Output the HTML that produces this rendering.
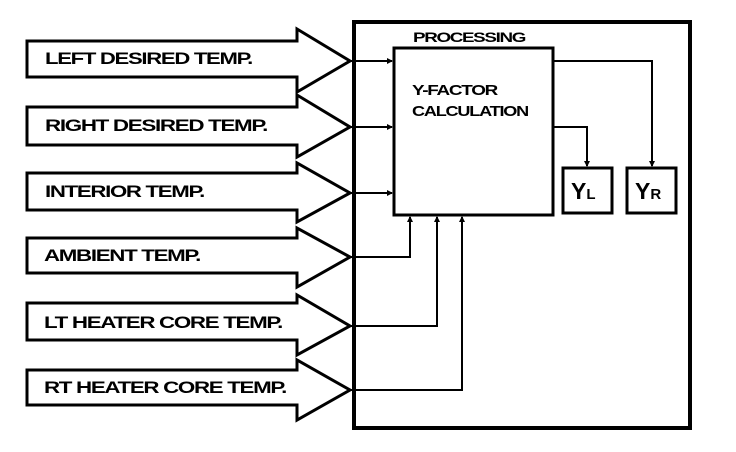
<!DOCTYPE html>
<html><head><style>html,body{margin:0;padding:0;background:#fff}svg{display:block}</style></head>
<body>
<svg width="736" height="452" viewBox="0 0 736 452" xmlns="http://www.w3.org/2000/svg" font-family="Liberation Sans, sans-serif" font-weight="bold">
<defs>
<marker id="ah" markerWidth="6" markerHeight="6" refX="5" refY="3" orient="auto" markerUnits="userSpaceOnUse"><path d="M0,0 L6,3 L0,6 z" fill="#000"/></marker>
</defs>
<g fill="none" stroke="#000" stroke-width="3" stroke-linejoin="miter">
<!-- arrows -->
<path d="M297,41 H27 V77 H297 V92 L350,61 L297,29 Z" fill="#fff"/>
<path d="M297,107 H27 V145 H297 V157 L350,127 L297,95 Z" fill="#fff"/>
<path d="M297,173 H27 V210 H297 V222 L350,193 L297,163 Z" fill="#fff"/>
<path d="M297,238 H27 V273 H297 V287 L350,257 L297,228 Z" fill="#fff"/>
<path d="M297,303 H27 V340 H297 V355 L350,326 L297,295 Z" fill="#fff"/>
<path d="M297,370 H27 V405 H297 V420 L350,390 L297,360 Z" fill="#fff"/>
<!-- main box -->
<rect x="354" y="22" width="336" height="406" stroke-width="4"/>
<!-- Y-factor box -->
<rect x="394" y="48" width="159" height="167"/>
<rect x="563" y="168" width="49" height="45"/>
<rect x="627" y="168" width="49" height="45"/>
</g>
<g fill="none" stroke="#000" stroke-width="2">
<path d="M350,61 H392" marker-end="url(#ah)"/>
<path d="M350,127 H392" marker-end="url(#ah)"/>
<path d="M350,193 H392" marker-end="url(#ah)"/>
<path d="M350,257 H410 V217" marker-end="url(#ah)"/>
<path d="M350,326 H437 V217" marker-end="url(#ah)"/>
<path d="M350,390 H462 V217" marker-end="url(#ah)"/>
<path d="M553,61 H652 V166" marker-end="url(#ah)"/>
<path d="M553,127 H587 V166" marker-end="url(#ah)"/>
</g>
<g fill="#000" font-size="17" letter-spacing="-1">
<text x="45" y="64" textLength="207" lengthAdjust="spacingAndGlyphs">LEFT DESIRED TEMP.</text>
<text x="45" y="131" textLength="222" lengthAdjust="spacingAndGlyphs">RIGHT DESIRED TEMP.</text>
<text x="45" y="197" textLength="159" lengthAdjust="spacingAndGlyphs">INTERIOR TEMP.</text>
<text x="44" y="261" textLength="156" lengthAdjust="spacingAndGlyphs">AMBIENT TEMP.</text>
<text x="44" y="328" textLength="238" lengthAdjust="spacingAndGlyphs">LT HEATER CORE TEMP.</text>
<text x="44" y="393" textLength="242" lengthAdjust="spacingAndGlyphs">RT HEATER CORE TEMP.</text>
<text x="413" y="42" font-size="14" textLength="112" lengthAdjust="spacingAndGlyphs">PROCESSING</text>
<text x="412" y="95" font-size="15" textLength="85" lengthAdjust="spacingAndGlyphs">Y-FACTOR</text>
<text x="412" y="116" font-size="15" textLength="116" lengthAdjust="spacingAndGlyphs">CALCULATION</text>
<text x="571" y="199" font-size="23" letter-spacing="0">Y<tspan font-size="15">L</tspan></text>
<text x="635" y="199" font-size="23" letter-spacing="0">Y<tspan font-size="15">R</tspan></text>
</g>
</svg>
</body></html>
